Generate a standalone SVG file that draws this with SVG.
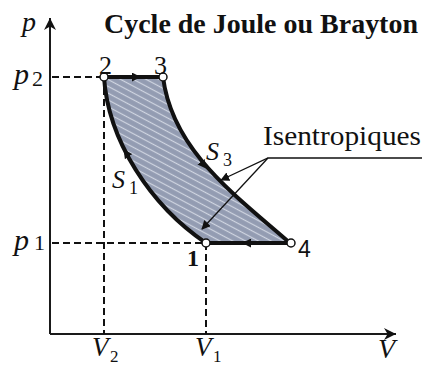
<svg xmlns="http://www.w3.org/2000/svg" width="422" height="365" viewBox="0 0 422 365">
<defs>
<style>
.ser{font-family:"Liberation Serif","Times New Roman",serif;fill:#111}
.it{font-style:italic}
.axis{stroke:#1a1a1a;stroke-width:2;fill:none}
.dash{stroke:#111;stroke-width:2;stroke-dasharray:7,4;fill:none}
.proc{stroke:#111;stroke-width:4;fill:none;stroke-linejoin:round}
.lead{stroke:#111;stroke-width:1.3;fill:none}
.pt{fill:#fff;stroke:#111;stroke-width:1.5}
</style>
<pattern id="hatch" width="6" height="6" patternUnits="userSpaceOnUse" patternTransform="rotate(28)">
<rect width="6" height="6" fill="#939cb2"/>
<line x1="0" y1="1.5" x2="6" y2="1.5" stroke="#cfd5e1" stroke-width="1.2"/>
</pattern>
<marker id="ah" viewBox="0 0 10 10" refX="9" refY="5" markerWidth="9" markerHeight="9" markerUnits="userSpaceOnUse" orient="auto">
<path d="M0,0 L10,5 L0,10 z" fill="#111"/>
</marker>
<marker id="axh" viewBox="0 0 10 10" refX="10" refY="5" markerWidth="14" markerHeight="12" markerUnits="userSpaceOnUse" orient="auto">
<path d="M0,0 L10,5 L0,10 L3,5 z" fill="#111"/>
</marker>
</defs>

<g id="axes">
<line class="axis" x1="50" y1="334" x2="50" y2="18" marker-end="url(#axh)"/>
<line class="axis" x1="50" y1="334" x2="396" y2="334" marker-end="url(#axh)"/>
<text class="ser it" x="22" y="31" font-size="28">p</text>
<text class="ser it" x="378" y="358" font-size="28">V</text>
</g>

<g id="cycle-area">
<path d="M104,77 L163,77 C172,150 235,195 290,243 L206,243 C150,205 108,140 104,77 Z" fill="url(#hatch)" stroke="none"/>
</g>

<g id="connectors">
<line class="dash" x1="52" y1="77" x2="104" y2="77"/>
<line class="dash" x1="52" y1="243" x2="206" y2="243"/>
<line class="dash" x1="104" y1="77" x2="104" y2="334"/>
<line class="dash" x1="206" y1="243" x2="206" y2="334"/>
<path id="p23" class="proc" d="M104,77 L163,77"/>
<path id="p34" class="proc" d="M163,77 C172,150 235,195 290,243"/>
<path id="p41" class="proc" d="M290,243 L206,243"/>
<path id="p12" class="proc" d="M206,243 C150,205 108,140 104,77"/>
<path d="M128,77 L140,77" stroke="none" fill="none" marker-end="url(#ah)"/>
<path d="M255,243 L243,243" stroke="none" fill="none" marker-end="url(#ah)"/>
<path d="M133,163 L124,150" stroke="none" fill="none" marker-end="url(#ah)"/>
<path d="M198,158 L206,168" stroke="none" fill="none" marker-end="url(#ah)"/>
<polyline class="lead" points="422,158 268,158 221,180" marker-end="url(#ah)"/>
<line class="lead" x1="268" y1="158" x2="202" y2="229" marker-end="url(#ah)"/>
</g>

<g id="state-2">
<circle class="pt" cx="104" cy="77" r="4"/>
<text class="ser" x="99" y="74" font-size="26">2</text>
</g>
<g id="state-3">
<circle class="pt" cx="163" cy="77" r="4"/>
<text class="ser" x="154" y="74" font-size="26">3</text>
</g>
<g id="state-1">
<circle class="pt" cx="206" cy="243" r="4"/>
<text class="ser" x="187" y="266" font-size="24" font-weight="bold">1</text>
</g>
<g id="state-4">
<circle class="pt" cx="291" cy="243" r="4"/>
<text x="298" y="257" font-size="23" font-family="Liberation Sans, Arial, sans-serif" fill="#111">4</text>
</g>

<g id="labels">
<text class="ser" x="104" y="33" font-size="28" font-weight="bold" textLength="314" lengthAdjust="spacingAndGlyphs">Cycle de Joule ou Brayton</text>
<text class="ser" x="263" y="145" font-size="27" textLength="158" lengthAdjust="spacingAndGlyphs">Isentropiques</text>
<text class="ser it" x="14" y="84" font-size="30">p</text><text class="ser" x="32" y="86" font-size="22">2</text>
<text class="ser it" x="14" y="250" font-size="30">p</text><text class="ser" x="34" y="250" font-size="22">1</text>
<text class="ser it" x="112" y="188" font-size="26">S</text><text class="ser" x="129" y="194" font-size="18">1</text>
<text class="ser it" x="206" y="160" font-size="26">S</text><text class="ser" x="223" y="166" font-size="18">3</text>
<text class="ser it" x="92" y="356" font-size="27">V</text><text class="ser" x="110" y="362" font-size="17">2</text>
<text class="ser it" x="195" y="356" font-size="27">V</text><text class="ser" x="213" y="362" font-size="17">1</text>
</g>
</svg>
